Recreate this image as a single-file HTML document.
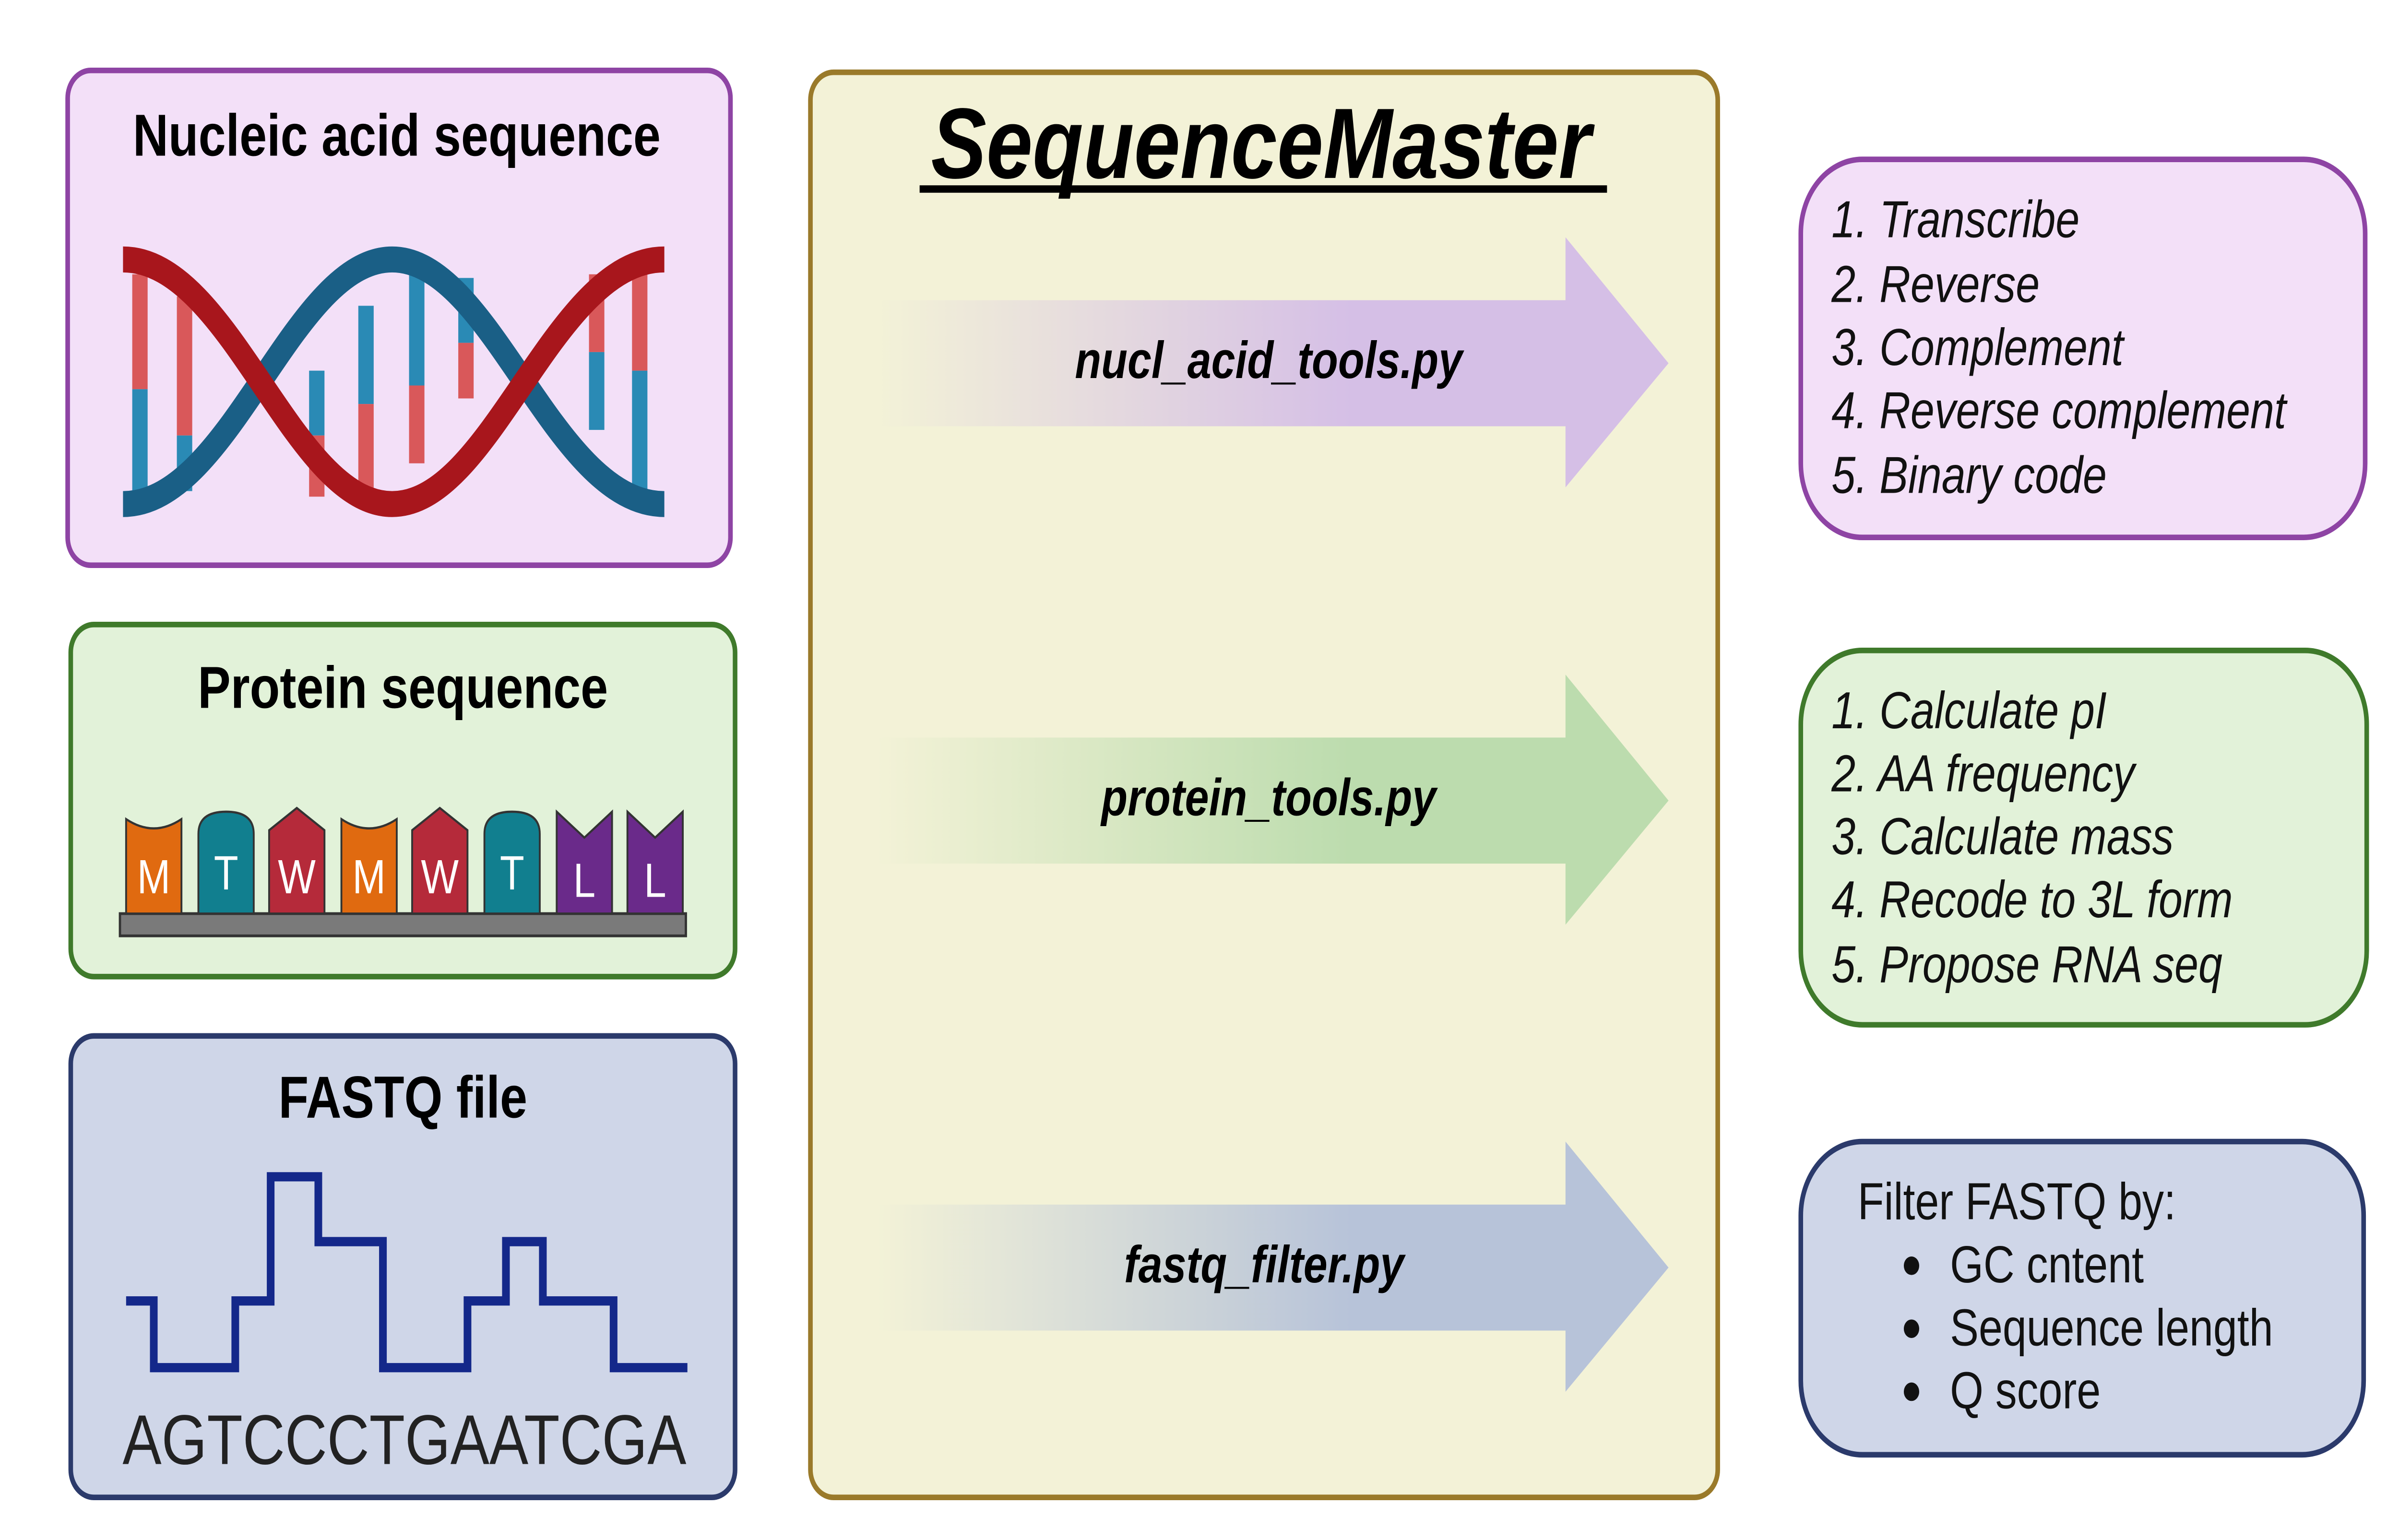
<!DOCTYPE html>
<html><head><meta charset="utf-8"><style>html,body{margin:0;padding:0;background:#fff;width:100%;height:100%;overflow:hidden}svg{display:block;width:100vw;height:100vh}</style></head><body>
<svg xmlns="http://www.w3.org/2000/svg" viewBox="0 0 1560 831" preserveAspectRatio="none" font-family="Liberation Sans, sans-serif">
<defs>
<linearGradient id="g1" x1="570" x2="1085" y1="0" y2="0" gradientUnits="userSpaceOnUse"><stop offset="0" stop-color="#d5bfe6" stop-opacity="0"/><stop offset="0.6" stop-color="#d5bfe6"/></linearGradient>
<linearGradient id="g2" x1="570" x2="1085" y1="0" y2="0" gradientUnits="userSpaceOnUse"><stop offset="0" stop-color="#bcdcae" stop-opacity="0"/><stop offset="0.6" stop-color="#bcdcae"/></linearGradient>
<linearGradient id="g3" x1="570" x2="1085" y1="0" y2="0" gradientUnits="userSpaceOnUse"><stop offset="0" stop-color="#b7c3d9" stop-opacity="0"/><stop offset="0.6" stop-color="#b7c3d9"/></linearGradient>
</defs>
<rect x="44" y="38" width="431" height="267" rx="15" fill="#f3e0f8" stroke="#8e44a4" stroke-width="3"/>
<rect x="46" y="337" width="432" height="190" rx="15" fill="#e2f2d9" stroke="#3f7a2b" stroke-width="3"/>
<rect x="46" y="559" width="432" height="249" rx="15" fill="#cfd6e8" stroke="#2b3a6b" stroke-width="3"/>
<rect x="527" y="39" width="590" height="769" rx="15" fill="#f3f2d7" stroke="#9a7a2a" stroke-width="3"/>
<text x="820" y="96" font-size="54" font-weight="bold" font-style="italic" text-anchor="middle">SequenceMaster</text>
<rect x="598" y="100" width="447" height="4" fill="#000"/>
<path d="M570 162 H1018 V128 L1085 196 L1018 263 V230 H570 Z" fill="url(#g1)"/>
<path d="M570 398 H1018 V364 L1085 432 L1018 499 V466 H570 Z" fill="url(#g2)"/>
<path d="M570 650 H1018 V616 L1085 684 L1018 751 V718 H570 Z" fill="url(#g3)"/>
<g font-size="28" font-weight="bold" font-style="italic" text-anchor="middle">
<text x="825" y="204">nucl_acid_tools.py</text>
<text x="825" y="440">protein_tools.py</text>
<text x="822" y="692">fastq_filter.py</text>
</g>
<rect x="1171" y="86" width="367" height="204" rx="40" fill="#f3e0f8" stroke="#8e44a4" stroke-width="3"/>
<rect x="1171" y="351" width="368" height="202" rx="40" fill="#e2f2d9" stroke="#3f7a2b" stroke-width="3"/>
<rect x="1171" y="616" width="366" height="169" rx="40" fill="#cfd6e8" stroke="#2b3a6b" stroke-width="3"/>
<g font-size="28" font-style="italic" fill="#111">
<text x="1191" y="128">1.  Transcribe</text>
<text x="1191" y="163">2.  Reverse</text>
<text x="1191" y="197">3.  Complement</text>
<text x="1191" y="231">4.  Reverse complement</text>
<text x="1191" y="266">5.  Binary code</text>
<text x="1191" y="393">1.  Calculate pI</text>
<text x="1191" y="427">2.  AA frequency</text>
<text x="1191" y="461">3.  Calculate mass</text>
<text x="1191" y="495">4.  Recode to 3L form</text>
<text x="1191" y="530">5.  Propose RNA seq</text>
</g>
<g font-size="28" fill="#111">
<text x="1208" y="658">Filter FASTQ by:</text>
<text x="1268" y="692">GC cntent</text>
<text x="1268" y="726">Sequence length</text>
<text x="1268" y="760">Q score</text>
<circle cx="1243" cy="683" r="5"/><circle cx="1243" cy="717" r="5"/><circle cx="1243" cy="751" r="5"/>
</g>
<g font-size="32" font-weight="bold" text-anchor="middle">
<text x="258" y="84">Nucleic acid sequence</text>
<text x="262" y="382">Protein sequence</text>
<text x="262" y="603">FASTQ file</text>
</g>
<g stroke-width="10">
<line x1="91" y1="148" x2="91" y2="210" stroke="#d9585a"/><line x1="91" y1="210" x2="91" y2="268" stroke="#2a8ab5"/>
<line x1="120" y1="160" x2="120" y2="235" stroke="#d9585a"/><line x1="120" y1="235" x2="120" y2="265" stroke="#2a8ab5"/>
<line x1="206" y1="200" x2="206" y2="235" stroke="#2a8ab5"/><line x1="206" y1="235" x2="206" y2="268" stroke="#d9585a"/>
<line x1="238" y1="165" x2="238" y2="218" stroke="#2a8ab5"/><line x1="238" y1="218" x2="238" y2="268" stroke="#d9585a"/>
<line x1="271" y1="148" x2="271" y2="208" stroke="#2a8ab5"/><line x1="271" y1="208" x2="271" y2="250" stroke="#d9585a"/>
<line x1="303" y1="150" x2="303" y2="185" stroke="#2a8ab5"/><line x1="303" y1="185" x2="303" y2="215" stroke="#d9585a"/>
<line x1="388" y1="148" x2="388" y2="190" stroke="#d9585a"/><line x1="388" y1="190" x2="388" y2="232" stroke="#2a8ab5"/>
<line x1="416" y1="145" x2="416" y2="200" stroke="#d9585a"/><line x1="416" y1="200" x2="416" y2="268" stroke="#2a8ab5"/>
</g>
<path d="M80 272 C150 272 190 140 255 140 C320 140 360 272 432 272" fill="none" stroke="#1a5f86" stroke-width="14"/>
<path d="M80 140 C150 140 190 272 255 272 C320 272 360 140 432 140" fill="none" stroke="#a8161c" stroke-width="14"/>
<rect x="78" y="493" width="368" height="12" fill="#7a7a7a" stroke="#333" stroke-width="1.5"/>
<g stroke="#333" stroke-width="1.2">
<path d="M82 493 V442 Q100 452 118 442 V493 Z" fill="#e06a10"/>
<path d="M129 493 V450 Q129 438 147 438 Q165 438 165 450 V493 Z" fill="#117f8f"/>
<path d="M175 493 V448 L193 436 L211 448 V493 Z" fill="#b52a3a"/>
<path d="M222 493 V442 Q240 452 258 442 V493 Z" fill="#e06a10"/>
<path d="M268 493 V448 L286 436 L304 448 V493 Z" fill="#b52a3a"/>
<path d="M315 493 V450 Q315 438 333 438 Q351 438 351 450 V493 Z" fill="#117f8f"/>
<path d="M362 493 V438 L380 452 L398 438 V493 Z" fill="#6a2a8a"/>
<path d="M408 493 V438 L426 452 L444 438 V493 Z" fill="#6a2a8a"/>
</g>
<g font-size="26" fill="#fff" text-anchor="middle">
<text x="100" y="482">M</text><text x="147" y="480">T</text><text x="193" y="482">W</text><text x="240" y="482">M</text><text x="286" y="482">W</text><text x="333" y="480">T</text><text x="380" y="484">L</text><text x="426" y="484">L</text>
</g>
<polyline points="82,702 100,702 100,738 153,738 153,702 176,702 176,635 207,635 207,670 249,670 249,738 304,738 304,702 329,702 329,670 353,670 353,702 399,702 399,738 447,738" fill="none" stroke="#14288a" stroke-width="5"/>
<text x="263" y="790" font-size="38" text-anchor="middle" fill="#222">AGTCCCTGAATCGA</text>
</svg>
</body></html>
